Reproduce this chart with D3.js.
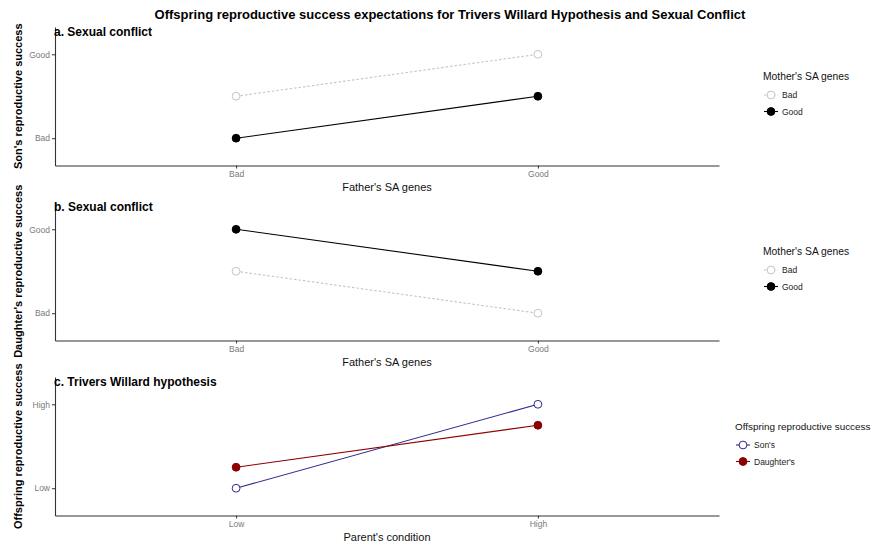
<!DOCTYPE html>
<html>
<head>
<meta charset="utf-8">
<script src="https://cdn.jsdelivr.net/npm/d3@7"></script>
<style>
  html, body { margin: 0; padding: 0; background: #fff; }
  svg { display: block; font-family: "Liberation Sans", Arial, Helvetica, sans-serif; }
</style>
</head>
<body>
<svg id="chart" width="875" height="543"></svg>
<script>
// Categories and tick labels
const fatherGenes = ["Bad", "Good"];
const parentCondition = ["Low", "High"];
const geneTickLabels = ["Bad", "Good"];
const conditionTickLabels = ["Low", "High"];
const tickValues = [1, 2];

// Panel a: son's reproductive success by mother's SA genes
const sonsMotherBad = [1.5, 2];
const sonsMotherGood = [1, 1.5];
// Panel b: daughter's reproductive success by mother's SA genes
const daughtersMotherBad = [1.5, 1];
const daughtersMotherGood = [2, 1.5];
// Panel c: Trivers-Willard expectations
const sonsRS = [1, 2];
const daughtersRS = [1.25, 1.75];

const svg = d3.select("#chart");

const left = 55, right = 719;
const panelH = 138.5;

svg.append("text")
  .attr("x", 450).attr("y", 19)
  .attr("text-anchor", "middle")
  .attr("font-weight", "bold").attr("font-size", 13)
  .attr("fill", "#000")
  .text("Offspring reproductive success expectations for Trivers Willard Hypothesis and Sexual Conflict");

const panels = [
  {
    top: 27, tag: "a. Sexual conflict", yTitle: "Son's reproductive success",
    xTitle: "Father's SA genes", cats: fatherGenes, yLabels: geneTickLabels,
    legendTitle: "Mother's SA genes", legendX: 763, legendSize: 10.3,
    series: [
      { name: "Bad", values: sonsMotherBad, color: "#c4c4c4", dash: "2.5,2", fill: "#fff" },
      { name: "Good", values: sonsMotherGood, color: "#000", dash: null, fill: "#000" }
    ]
  },
  {
    top: 202, tag: "b. Sexual conflict", yTitle: "Daughter's reproductive success",
    xTitle: "Father's SA genes", cats: fatherGenes, yLabels: geneTickLabels,
    legendTitle: "Mother's SA genes", legendX: 763, legendSize: 10.3,
    series: [
      { name: "Bad", values: daughtersMotherBad, color: "#c4c4c4", dash: "2.5,2", fill: "#fff" },
      { name: "Good", values: daughtersMotherGood, color: "#000", dash: null, fill: "#000" }
    ]
  },
  {
    top: 377, tag: "c. Trivers Willard hypothesis", yTitle: "Offspring reproductive success",
    xTitle: "Parent's condition", cats: parentCondition, yLabels: conditionTickLabels,
    legendTitle: "Offspring reproductive success", legendX: 735, legendSize: 9.9,
    series: [
      { name: "Son's", values: sonsRS, color: "#2e2a8f", dash: null, fill: "#fff" },
      { name: "Daughter's", values: daughtersRS, color: "#8b0000", dash: null, fill: "#8b0000" }
    ]
  }
];

panels.forEach(p => {
  const bottom = p.top + panelH;
  const x = d3.scalePoint().domain(p.cats).range([left, right]).padding(0.6);
  const y = d3.scaleLinear().domain([0.675, 2.325]).range([bottom, p.top]);
  const g = svg.append("g");

  // axes
  const xAxis = g.append("g").attr("transform", `translate(0,${bottom})`)
    .call(d3.axisBottom(x).tickSize(3).tickPadding(2).tickSizeOuter(0));
  const yAxis = g.append("g").attr("transform", `translate(${left},0)`)
    .call(d3.axisLeft(y).tickValues(tickValues).tickSize(3).tickPadding(2).tickSizeOuter(0)
      .tickFormat((d, i) => p.yLabels[i]));
  [xAxis, yAxis].forEach(a => {
    a.select(".domain").attr("stroke", "#333").attr("stroke-width", 1.1);
    a.selectAll(".tick line").attr("stroke", "#333").attr("stroke-width", 1);
    a.selectAll(".tick text").attr("fill", "#7a7a7a").attr("font-size", 8.5)
      .attr("font-family", "'Liberation Sans', Arial, sans-serif");
  });

  // titles
  g.append("text").attr("x", left - 1).attr("y", p.top + 8.5)
    .attr("font-weight", "bold").attr("font-size", 12).text(p.tag);
  g.append("text")
    .attr("transform", `translate(22,${(p.top + bottom) / 2}) rotate(-90)`)
    .attr("text-anchor", "middle").attr("font-weight", "bold").attr("font-size", 11)
    .text(p.yTitle);
  g.append("text").attr("x", (left + right) / 2).attr("y", bottom + 25)
    .attr("text-anchor", "middle").attr("font-size", 11).attr("fill", "#111")
    .text(p.xTitle);

  // lines and points
  const line = d3.line().x((d, i) => x(p.cats[i])).y(d => y(d));
  p.series.forEach(s => {
    g.append("path").datum(s.values).attr("d", line)
      .attr("fill", "none").attr("stroke", s.color).attr("stroke-width", 1.1)
      .attr("stroke-dasharray", s.dash);
    g.selectAll(null).data(s.values).enter().append("circle")
      .attr("cx", (d, i) => x(p.cats[i])).attr("cy", d => y(d)).attr("r", 3.9)
      .attr("fill", s.fill).attr("stroke", s.color).attr("stroke-width", 1);
  });

  // legend
  const ly = p.top + 53;
  const lg = g.append("g").attr("transform", `translate(${p.legendX},${ly})`);
  lg.append("text").attr("x", 0).attr("y", 0).attr("font-size", p.legendSize).attr("fill", "#111")
    .text(p.legendTitle);
  p.series.forEach((s, i) => {
    const ry = 15 + i * 16.5;
    lg.append("line").attr("x1", 1).attr("x2", 15).attr("y1", ry).attr("y2", ry)
      .attr("stroke", s.color).attr("stroke-width", 1.1).attr("stroke-dasharray", s.dash);
    lg.append("circle").attr("cx", 8).attr("cy", ry).attr("r", 3.9)
      .attr("fill", s.fill).attr("stroke", s.color).attr("stroke-width", 1);
    lg.append("text").attr("x", 19).attr("y", ry + 3).attr("font-size", 8.5).attr("fill", "#222")
      .text(s.name);
  });
});
</script>
</body>
</html>
